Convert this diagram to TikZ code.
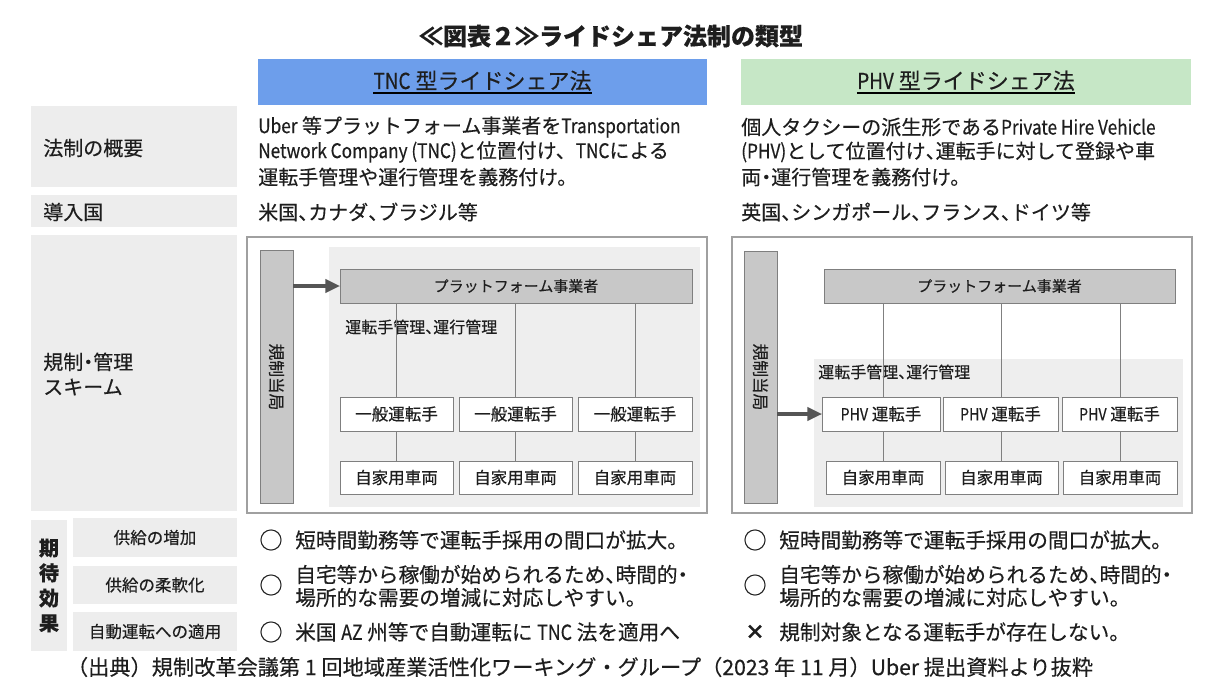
\documentclass[tikz,border=0pt]{standalone}
\usepackage{fontspec}
\setmainfont{Noto Sans CJK JP}[FakeBold=0.35]
\newfontfamily\latn{Noto Sans CJK JP}[FakeStretch=0.86, FakeBold=0.35]
\newfontfamily\pun{Noto Sans CJK JP}[RawFeature=+halt, FakeBold=0.35]
\newcommand\tten{{\pun 、}}
\newcommand\nkg{{\pun ・}}
\usetikzlibrary{arrows.meta}
\definecolor{tncblue}{HTML}{6D9EEB}
\definecolor{phvgreen}{HTML}{C6E7C6}
\definecolor{lblgray}{HTML}{EDEDED}
\definecolor{bargray}{HTML}{C8C8C8}
\definecolor{edgegray}{HTML}{7F7F7F}
\definecolor{areagray}{HTML}{EEEEEE}
\definecolor{framegray}{HTML}{A0A0A0}
\definecolor{ink}{HTML}{1E1E1E}
\definecolor{arrowgray}{HTML}{555555}
\definecolor{linegray}{HTML}{808080}
\newcommand\boxnode[7]{\node[#6, minimum width={(#4-#2)*0.75pt}, minimum height={(#5-#3)*0.75pt}, inner sep=0pt, outer sep=0pt] (#1) at ({(#2+#4)/2},{(#3+#5)/2}) {#7};}
\tikzset{
  lblbox/.style={fill=lblgray, draw=none},
  lbltext/.style={anchor=west, inner sep=0pt, font=\fontsize{15}{18.75}\selectfont},
  sublbl/.style={font=\fontsize{12.4}{15}\selectfont},
  headbox/.style={draw=none},
  headtext/.style={anchor=base, inner sep=0pt, font=\fontsize{16.5}{20}\selectfont},
  bodytext/.style={anchor=west, inner sep=0pt, font=\fontsize{15}{18.75}\selectfont},
  frame/.style={draw=framegray, fill=white, line width=0.9pt},
  area/.style={fill=areagray, draw=none},
  barbox/.style={fill=bargray, draw=edgegray, line width=0.75pt},
  platbox/.style={fill=bargray, draw=edgegray, line width=0.75pt, font=\fontsize{11.25}{13}\selectfont},
  whitebox/.style={fill=white, draw=edgegray, line width=0.75pt, font=\fontsize{12.4}{14}\selectfont},
  conn/.style={draw=linegray, line width=0.75pt},
  arr/.style={draw=arrowgray, line width=2.3pt, -{Triangle[length=11pt,width=10pt]}},
  mgmt/.style={anchor=west, inner sep=0pt, font=\fontsize{12}{14}\selectfont},
  evaltext/.style={anchor=west, inner sep=0pt, font=\fontsize{15.5}{17.25}\selectfont},
  markglyph/.style={anchor=center, inner sep=0pt, font=\fontsize{17.5}{18}\selectfont},
  vertlbl/.style={rotate=-90, inner sep=0pt, font=\fontsize{12.5}{14}\selectfont},
}
\begin{document}
\begin{tikzpicture}[x=0.75pt,y=-0.75pt, every node/.append style={text=ink}]
\useasboundingbox (0,0) rectangle (1228,688);
\fill[white] (0,0) rectangle (1228,688);

% title
\node[inner sep=0pt, font=\fontsize{18}{22}\selectfont\bfseries] (title) at (611,36) {≪図表２≫ライドシェア法制の類型};

% headers
\boxnode{tnchead}{258}{59}{707}{105}{headbox, fill=tncblue}{}
\node[headtext] (tnctext) at (482.5,89) {{\latn TNC} 型ライドシェア法};
\draw[line width=1.8pt] ([yshift=-3.2pt]tnctext.base west) -- ([yshift=-3.2pt]tnctext.base east);
\boxnode{phvhead}{741}{59}{1191}{105}{headbox, fill=phvgreen}{}
\node[headtext] (phvtext) at (966,89) {{\latn PHV} 型ライドシェア法};
\draw[line width=1.8pt] ([yshift=-3.2pt]phvtext.base west) -- ([yshift=-3.2pt]phvtext.base east);

% left labels
\boxnode{lab1}{31}{106}{237}{187}{lblbox}{}
\node[lbltext] (lab1t) at (43,148) {法制の概要};
\boxnode{lab2}{31}{195}{237}{227}{lblbox}{}
\node[lbltext] (lab2t) at (43,212) {導入国};
\boxnode{lab3}{31}{235}{237}{511}{lblbox}{}
\node[lbltext, align=left] (lab3t) at (43,374) {規制\nkg 管理\\スキーム};
\boxnode{lab4}{31}{520}{67}{651}{lblbox, align=center, font=\fontsize{15}{18.75}\selectfont\bfseries}{期\\待\\効\\果}
\boxnode{sub1}{73}{518}{237}{557}{lblbox, sublbl}{供給の増加}
\boxnode{sub2}{73}{566}{237}{604}{lblbox, sublbl}{供給の柔軟化}
\boxnode{sub3}{73}{612}{237}{651}{lblbox, sublbl}{自動運転への適用}

% overview texts
\node[bodytext] (tov1) at (258,127) {{\latn Uber} 等プラットフォーム事業者を{\latn Transportation}};
\node[bodytext] (tov2) at (258,152) {{\latn Network Company (TNC)}と位置付け、{\latn TNC}による};
\node[bodytext] (tov3) at (258,177) {運転手管理や運行管理を義務付け。};
\node[bodytext] (pov1) at (741,127) {個人タクシーの派生形である{\latn Private Hire Vehicle}};
\node[bodytext] (pov2) at (741,152) {{\latn (PHV)}として位置付け\tten 運転手に対して登録や車};
\node[bodytext] (pov3) at (741,177) {両\nkg 運行管理を義務付け。};
\node[bodytext] (tcty) at (258,212) {米国\tten カナダ\tten ブラジル等};
\node[bodytext] (pcty) at (741,212) {英国\tten シンガポール\tten フランス\tten ドイツ等};

% TNC diagram
\boxnode{tframe}{247}{237}{707}{513}{frame}{}
\boxnode{tarea}{329}{247}{700}{507}{area}{}
\boxnode{tbar}{260}{250}{293}{503}{barbox}{}
\node[vertlbl] (tbart) at (276.5,377) {規制当局};
\boxnode{tplat}{340}{269}{692}{303}{platbox}{プラットフォーム事業者}
\node[mgmt] (tmgmt) at (345,327) {運転手管理\tten 運行管理};
\boxnode{td1}{340}{397}{453}{431}{whitebox}{一般運転手}
\boxnode{td2}{459}{397}{572}{431}{whitebox}{一般運転手}
\boxnode{td3}{578}{397}{692}{431}{whitebox}{一般運転手}
\boxnode{tv1}{340}{461}{453}{494}{whitebox}{自家用車両}
\boxnode{tv2}{459}{461}{572}{494}{whitebox}{自家用車両}
\boxnode{tv3}{578}{461}{692}{494}{whitebox}{自家用車両}
\foreach \i in {1,2,3}{
  \draw[conn] (td\i.north |- tplat.south) -- (td\i.north);
  \draw[conn] (td\i.south) -- (tv\i.north);
}
\draw[arr] (tbar.east |- tplat.west) -- (tplat.west);

% PHV diagram
\boxnode{pframe}{732}{237}{1192}{513}{frame}{}
\boxnode{parea}{814}{359}{1183}{507}{area}{}
\boxnode{pbar}{744}{251}{777}{503}{barbox}{}
\node[vertlbl] (pbart) at (760.5,377) {規制当局};
\boxnode{pplat}{824}{269}{1175}{303}{platbox}{プラットフォーム事業者}
\node[mgmt] (pmgmt) at (818,372) {運転手管理\tten 運行管理};
\boxnode{pd1}{822}{397}{940}{431}{whitebox}{{\latn PHV} 運転手}
\boxnode{pd2}{943}{397}{1058}{431}{whitebox}{{\latn PHV} 運転手}
\boxnode{pd3}{1062}{397}{1177}{431}{whitebox}{{\latn PHV} 運転手}
\boxnode{pv1}{826}{461}{940}{494}{whitebox}{自家用車両}
\boxnode{pv2}{945}{461}{1058}{494}{whitebox}{自家用車両}
\boxnode{pv3}{1063}{461}{1177}{494}{whitebox}{自家用車両}
\foreach \i in {1,2,3}{
  \draw[conn] (pv\i.north |- pplat.south) -- (pv\i.north |- pd\i.north);
  \draw[conn] (pv\i.north |- pd\i.south) -- (pv\i.north);
}
\draw[arr] (pbar.east |- pd1.west) -- (pd1.west);

% expected effects
\node[markglyph] (tm1) at (271,540) {○};
\node[evaltext] (te1) at (295,540) {短時間勤務等で運転手採用の間口が拡大。};
\node[markglyph] (tm2) at (271,585) {○};
\node[evaltext, align=left] (te2) at (295,586) {自宅等から稼働が始められるため\tten 時間的\nkg\\場所的な需要の増減に対応しやすい。};
\node[markglyph] (tm3) at (271,632) {○};
\node[evaltext] (te3) at (295,632) {米国 {\latn AZ} 州等で自動運転に {\latn TNC} 法を適用へ};
\node[markglyph] (pm1) at (755,540) {○};
\node[evaltext] (pe1) at (779,540) {短時間勤務等で運転手採用の間口が拡大。};
\node[markglyph] (pm2) at (755,585) {○};
\node[evaltext, align=left] (pe2) at (779,586) {自宅等から稼働が始められるため\tten 時間的\nkg\\場所的な需要の増減に対応しやすい。};
\node[markglyph, font=\fontsize{15}{18}\selectfont\bfseries] (pm3) at (755,632) {×};
\node[evaltext] (pe3) at (779,632) {規制対象となる運転手が存在しない。};

% footnote
\node[inner sep=0pt, font=\fontsize{15.9}{18}\selectfont] (foot) at (580,667) {（出典）規制改革会議第 1 回地域産業活性化ワーキング・グループ（2023 年 11 月）Uber 提出資料より抜粋};
\end{tikzpicture}
\end{document}
